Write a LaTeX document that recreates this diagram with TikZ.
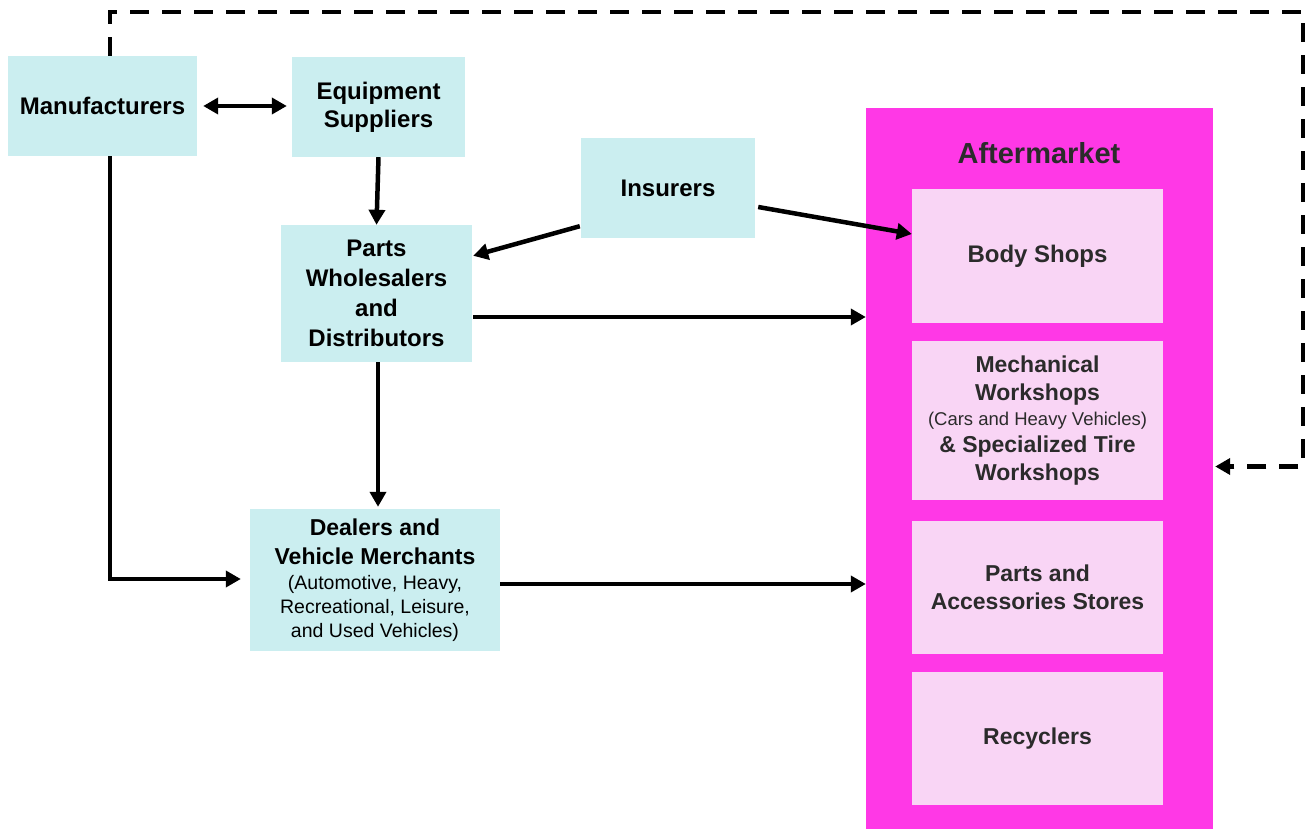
\documentclass[tikz,border=0pt]{standalone}
\usepackage{fontspec}
\setmainfont{Liberation Sans}
\usetikzlibrary{arrows.meta,calc}
\definecolor{cyanbox}{HTML}{CBEEF0}
\definecolor{magbg}{HTML}{FF38E6}
\definecolor{pinkbox}{HTML}{F9D5F5}
\definecolor{pinktext}{HTML}{2B2B2B}
\begin{document}
\begin{tikzpicture}[x=1pt,y=-1pt,
  cbox/.style={rectangle, fill=cyanbox, inner sep=0pt, align=center, text=black,
    font=\fontsize{24}{29}\selectfont\bfseries},
  pbox/.style={rectangle, fill=pinkbox, inner sep=0pt, align=center,
    minimum width=251, minimum height=134, text=pinktext,
    font=\fontsize{23}{28}\selectfont\bfseries},
  tip/.tip={Triangle[length=15pt,width=16pt]},
  conn/.style={line width=4.5pt, -tip},
  dconn/.style={line width=4.5pt, tip-tip},
  dashconn/.style={line width=4.5pt, dash pattern=on 19pt off 13pt, -tip},
  smalltext/.style={}
]
\useasboundingbox (0,0) rectangle (1307,829);

% Aftermarket panel
\node[rectangle, fill=magbg, minimum width=347, minimum height=721, inner sep=0pt] (after) at (1039.5,468.5) {};
\node[text=pinktext, font=\fontsize{29}{34}\selectfont\bfseries] (afttitle) at (1039,153) {Aftermarket};

\node[pbox, font=\fontsize{24}{29}\selectfont\bfseries] (body) at (1037.5,256) {Body Shops};
\node[pbox, minimum height=159] (mech) at (1037.5,420.5) {Mechanical\\Workshops\\[-3pt]{\fontsize{18.5}{22}\selectfont\mdseries (Cars and Heavy Vehicles)}\\[-1pt]\& Specialized Tire\\Workshops};
\node[pbox, minimum height=133] (stores) at (1037.5,587.5) {Parts and\\Accessories Stores};
\node[pbox, minimum height=133] (recyc) at (1037.5,738.5) {Recyclers};

% Cyan boxes
\node[cbox, minimum width=189, minimum height=100] (man) at (102.5,106) {Manufacturers};
\node[cbox, minimum width=173, minimum height=100, font=\fontsize{24}{28}\selectfont\bfseries] (eq) at (378.5,107) {Equipment\\Suppliers};
\node[cbox, minimum width=174, minimum height=100] (ins) at (668,188) {Insurers};
\node[cbox, minimum width=191, minimum height=137, font=\fontsize{24}{30}\selectfont\bfseries] (pw) at (376.5,293.5) {Parts\\Wholesalers\\and\\Distributors};
\node[cbox, minimum width=250, minimum height=142, font=\fontsize{23}{29}\selectfont\bfseries] (deal) at (375,580) {Dealers and\\Vehicle Merchants\\[-4pt]{\fontsize{19.5}{24}\selectfont\mdseries (Automotive, Heavy,}\\[-5pt]{\fontsize{19.5}{24}\selectfont\mdseries Recreational, Leisure,}\\[-5pt]{\fontsize{19.5}{24}\selectfont\mdseries and Used Vehicles)}};

% Connectors
\draw[dconn] ($(man.east)+(6,0)$) -- ($(man.east -| eq.west)+(-5,0)$);
\draw[conn] (eq.south) -- (pw.north);
\draw[conn] ($(ins.south west)+(-1,-12)$) -- ($(pw.north east)+(1,31)$);
\draw[conn] ($(ins.east)+(3,19)$) -- ($(body.west)+(0,-22)$);
\coordinate (pwout) at ($(pw.east)+(1,23.5)$);
\draw[conn] (pwout) -- (pwout -| after.west);
\coordinate (pwdown) at ($(pw.south)+(1.5,0)$);
\draw[conn] (pwdown) -- ($(pwdown |- deal.north)+(0,-2)$);
\coordinate (dout) at ($(deal.east)+(0,4)$);
\draw[conn] (dout) -- (dout -| after.west);
\coordinate (mdown) at ($(man.south)+(7.5,0)$);
\coordinate (din) at ($(deal.west)+(-9,-1)$);
\draw[conn] (mdown) |- (din);
\coordinate (mup) at ($(man.north)+(7.5,0)$);
\coordinate (dtl) at (110,12);
\coordinate (dtr) at (1303,12);
\coordinate (aftin) at ($(after.east)+(2,-2)$);
\draw[dashconn] (mup) -- (dtl) -- (dtr) |- (aftin);
\end{tikzpicture}
\end{document}
